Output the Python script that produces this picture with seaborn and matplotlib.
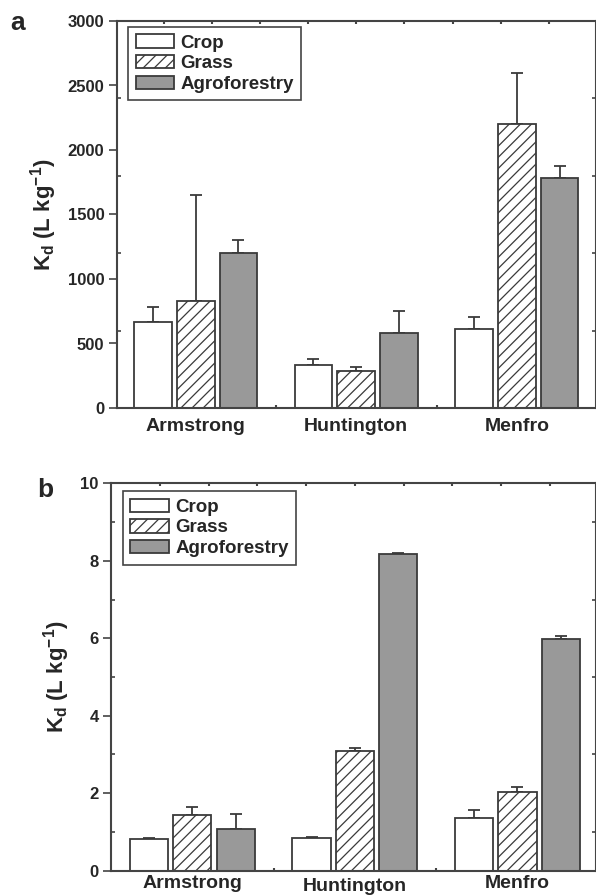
import numpy as np
import pandas as pd
import matplotlib
matplotlib.use("Agg")
import matplotlib.pyplot as plt
from matplotlib.transforms import ScaledTranslation
import seaborn as sns

# Sites and land-use treatments
sites = ["Armstrong", "Huntington", "Menfro"]
land_uses = ["Crop", "Grass", "Agroforestry"]

# Panel a: Kd means and (upper) standard errors
a_crop = [670, 335, 610]
a_grass = [830, 290, 2205]
a_agro = [1205, 585, 1785]
a_crop_se = [115, 45, 95]
a_grass_se = [820, 25, 395]
a_agro_se = [100, 165, 90]

# Panel b: Kd means and (upper) standard errors
b_crop = [0.82, 0.84, 1.37]
b_grass = [1.44, 3.08, 2.03]
b_agro = [1.08, 8.17, 5.98]
b_crop_se = [0.03, 0.02, 0.20]
b_grass_se = [0.21, 0.10, 0.12]
b_agro_se = [0.39, 0.03, 0.09]

a_yticks = [0, 500, 1000, 1500, 2000, 2500, 3000]
a_yminor = [600, 1200, 1800, 2400]
b_yticks = [0, 2, 4, 6, 8, 10]
b_yminor = [1, 3, 5, 7, 9]

sns.set_theme(style="white")
plt.rcParams["font.family"] = ["Liberation Sans", "DejaVu Sans"]
plt.rcParams["font.weight"] = "bold"
plt.rcParams["mathtext.fontset"] = "custom"
plt.rcParams["mathtext.rm"] = "Liberation Sans:bold"
plt.rcParams["mathtext.it"] = "Liberation Sans:bold"
plt.rcParams["mathtext.bf"] = "Liberation Sans:bold"
plt.rcParams["hatch.linewidth"] = 0.9

EDGE = "#3a3a3a"
SPINE = "#444444"
HATCH = "///"
palette = {"Crop": "white", "Grass": "white", "Agroforestry": "#999999"}


def build_frame(crop, grass, agro, crop_se, grass_se, agro_se):
    rows = []
    for vals, ses, lu in ((crop, crop_se, "Crop"), (grass, grass_se, "Grass"),
                          (agro, agro_se, "Agroforestry")):
        for s, v, e in zip(sites, vals, ses):
            rows.append({"site": s, "land": lu, "kd": v, "se": e})
    return pd.DataFrame(rows)


def draw_panel(ax, df, ylim, yticks, yminor, xlim, letter, letter_xy, legend_anchor, xpad):
    sns.barplot(data=df, x="site", y="kd", hue="land", order=sites, hue_order=land_uses,
                palette=palette, width=0.8, gap=0.12, errorbar=None,
                edgecolor=EDGE, linewidth=1.3, ax=ax, zorder=2)
    # hatch the grass bars and add one-sided error bars
    for lu, cont in zip(land_uses, ax.containers):
        sub = df[df["land"] == lu].set_index("site").loc[sites]
        xs = []
        for p in cont.patches:
            xs.append(p.get_x() + p.get_width() / 2)
            if lu == "Grass":
                p.set_hatch(HATCH)
        xs = np.array(xs)
        ax.errorbar(xs, sub["kd"].values,
                    yerr=[np.zeros(len(xs)), sub["se"].values],
                    fmt="none", ecolor=EDGE, elinewidth=1.3, capsize=4, capthick=1.3,
                    zorder=1)

    ax.set_xlim(*xlim)
    ax.set_ylim(*ylim)
    ax.set_yticks(yticks)
    ax.set_yticks(yminor, minor=True)
    ax.set_xticks([0.5, 1.5], minor=True)
    ax.set_xlabel("")
    ax.set_ylabel("K$_{\\mathrm{d}}$ (L kg$^{-1}$)", fontsize=16, fontweight="bold", labelpad=6)

    for sp in ax.spines.values():
        sp.set_visible(True)
        sp.set_color(SPINE)
        sp.set_linewidth(1.5)

    ax.tick_params(axis="y", which="major", direction="out", length=6, width=1.2,
                   color=SPINE, labelsize=12, pad=3, left=True)
    ax.tick_params(axis="y", which="minor", direction="in", length=3, width=1.2,
                   color=SPINE, left=True)
    ax.tick_params(axis="x", which="both", direction="in", length=2, width=1.5,
                   color=SPINE, labelsize=14, pad=xpad, bottom=True)
    for lbl in ax.get_yticklabels() + ax.get_xticklabels():
        lbl.set_fontweight("bold")

    # small tick marks on the top and right frame edges
    top = ax.secondary_xaxis("top")
    top.set_xticks(np.arange(-0.2, 2.45, 0.3))
    top.tick_params(direction="in", length=2, width=1.5, color=SPINE, labeltop=False)
    top.spines["top"].set_visible(False)
    right = ax.secondary_yaxis("right")
    right.set_yticks(yminor)
    right.tick_params(direction="in", length=3, width=1.2, color=SPINE, labelright=False)
    right.spines["right"].set_visible(False)

    handles, labels = ax.get_legend_handles_labels()
    leg = ax.legend(handles, labels, loc="upper left", bbox_to_anchor=legend_anchor,
                    borderaxespad=0, frameon=True, fancybox=False, framealpha=1,
                    edgecolor=SPINE, prop={"size": 13.5, "weight": "bold"},
                    handlelength=2.05, handleheight=0.72, handletextpad=0.35,
                    labelspacing=0.18, borderpad=0.4)
    leg.get_frame().set_linewidth(1.2)
    for h, lab in zip(leg.legend_handles, labels):
        h.set_edgecolor(EDGE)
        h.set_linewidth(1.3)
        if lab == "Grass":
            h.set_hatch(HATCH)

    ax.figure.text(letter_xy[0], letter_xy[1], letter, fontsize=19, fontweight="bold",
                   ha="left", va="baseline")


fig = plt.figure(figsize=(5.96, 8.96), dpi=100)
ax_a = fig.add_axes([117 / 596, 1 - 408 / 896, (595.5 - 117) / 596, 387 / 896])
ax_b = fig.add_axes([111 / 596, 1 - 870.7 / 896, (595.5 - 111) / 596, 387.4 / 896])

df_a = build_frame(a_crop, a_grass, a_agro, a_crop_se, a_grass_se, a_agro_se)
df_b = build_frame(b_crop, b_grass, b_agro, b_crop_se, b_grass_se, b_agro_se)

draw_panel(ax_a, df_a, (0, 3000), a_yticks, a_yminor, (-0.49, 2.49), "a",
           (10 / 596, 1 - 30 / 896), (0.023, 0.985), 7)
draw_panel(ax_b, df_b, (0, 10), b_yticks, b_yminor, (-0.5, 2.48), "b",
           (37 / 596, 1 - 497 / 896), (0.024, 0.98), 3)

# the middle site label in panel b sits a touch lower
for lbl in ax_b.get_xticklabels():
    if lbl.get_text() == "Huntington":
        lbl.set_transform(lbl.get_transform() + ScaledTranslation(0, -3 / 100, fig.dpi_scale_trans))

fig.savefig("out.png", dpi=100)
